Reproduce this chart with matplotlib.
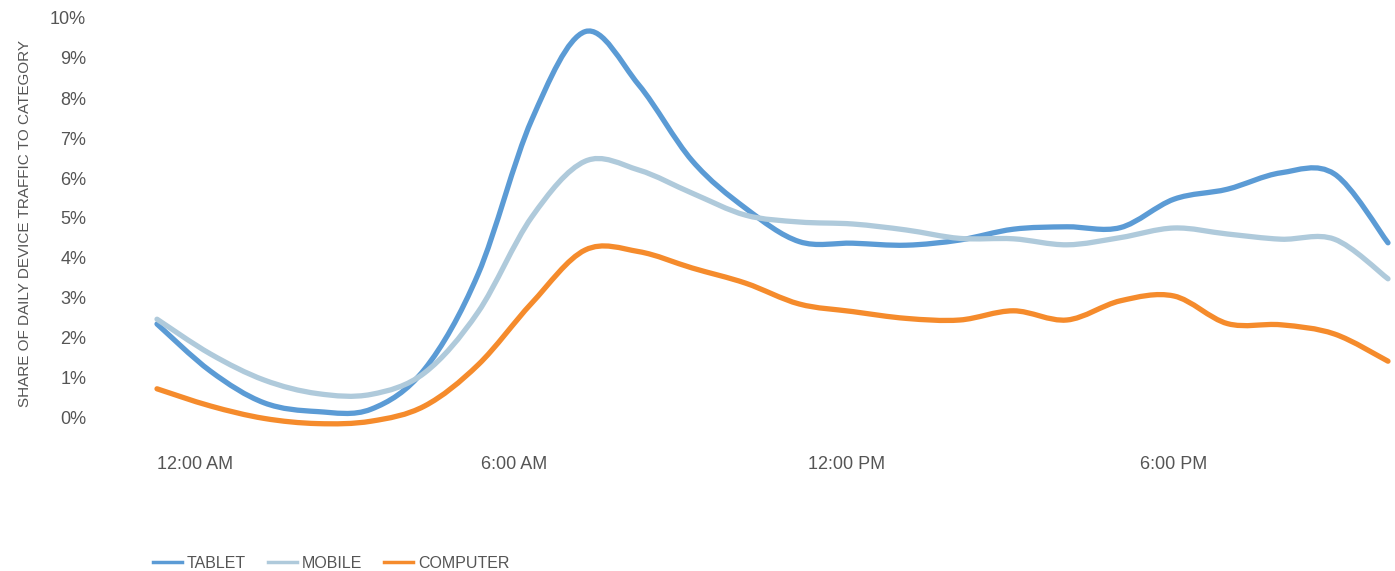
import numpy as np
import matplotlib.pyplot as plt
from matplotlib.path import Path
from matplotlib.patches import PathPatch
from matplotlib.lines import Line2D

plt.rcParams['font.family'] = ['Liberation Sans', 'DejaVu Sans']

hours = list(range(24))
tablet = [2.35, 1.17, 0.38, 0.16, 0.22, 1.22, 3.60, 7.45, 9.66, 8.33, 6.43, 5.24,
          4.41, 4.37, 4.32, 4.45, 4.72, 4.78, 4.76, 5.47, 5.72, 6.13, 6.10, 4.38]
mobile = [2.47, 1.60, 0.95, 0.61, 0.59, 1.13, 2.65, 5.02, 6.42, 6.20, 5.62, 5.07,
          4.90, 4.85, 4.70, 4.49, 4.48, 4.33, 4.51, 4.75, 4.60, 4.47, 4.47, 3.48]
computer = [0.73, 0.30, -0.01, -0.14, -0.08, 0.30, 1.33, 2.87, 4.20, 4.16, 3.75, 3.37,
            2.85, 2.66, 2.49, 2.45, 2.68, 2.45, 2.93, 3.05, 2.36, 2.33, 2.10, 1.42]

tick_labels = ['12:00 AM', '6:00 AM', '12:00 PM', '6:00 PM']
y_ticks = list(range(11))

series = [('TABLET', tablet, '#5b9bd5'),
          ('MOBILE', mobile, '#afcadb'),
          ('COMPUTER', computer, '#f58b2c')]
text_color = '#555555'


def smooth_path(x, y):
    # catmull-rom through the points, drawn as cubic bezier segments
    p = np.column_stack([x, y]).astype(float)
    ext = np.vstack([p[0], p, p[-1]])
    verts = [p[0]]
    codes = [Path.MOVETO]
    for i in range(len(p) - 1):
        p0, p1, p2, p3 = ext[i], ext[i + 1], ext[i + 2], ext[i + 3]
        verts += [p1 + (p2 - p0) / 6, p2 - (p3 - p1) / 6, p2]
        codes += [Path.CURVE4] * 3
    return Path(verts, codes)


fig = plt.figure(figsize=(13.95, 5.71), dpi=100)
W, H = 1395, 571
left, right = 157 / W, 1388 / W
bottom, top = 1 - 438 / H, 1 - 2 / H
ax = fig.add_axes([left, bottom, right - left, top - bottom])

for name, vals, col in series:
    ax.add_patch(PathPatch(smooth_path(hours, vals), fill=False, edgecolor=col,
                           lw=3.8, capstyle='round', joinstyle='round', clip_on=False))

ax.set_xlim(0, 23)
ax.set_ylim(-0.5, 10.4)
ax.set_yticks(y_ticks)
ax.set_yticklabels([f'{v}%' for v in y_ticks])
# label slots sit a little right of the exact hours in the original
ax.set_xticks([0, 6.06, 12.17, 18.36])
ax.set_xticklabels(tick_labels, ha='left')
ax.tick_params(axis='y', length=0, pad=51, labelsize=13, labelcolor=text_color)
ax.tick_params(axis='x', length=0, pad=12.9, labelsize=13, labelcolor=text_color)
for s in ax.spines.values():
    s.set_visible(False)

ax.set_ylabel('SHARE OF DAILY DEVICE TRAFFIC TO CATEGORY', fontsize=11, color=text_color)
ax.yaxis.set_label_coords(-0.1015, 0.493)

handles = [Line2D([], [], color=col, lw=2.5) for _, _, col in series]
fig.legend(handles, [s[0] for s in series], loc='center left',
           bbox_to_anchor=(153 / W, 1 - 563 / H), ncol=3, frameon=False,
           fontsize=11.5, labelcolor=text_color, handlelength=1.8,
           handletextpad=0.3, columnspacing=1.4, borderpad=0, borderaxespad=0)

fig.savefig('out.png', dpi=100)
